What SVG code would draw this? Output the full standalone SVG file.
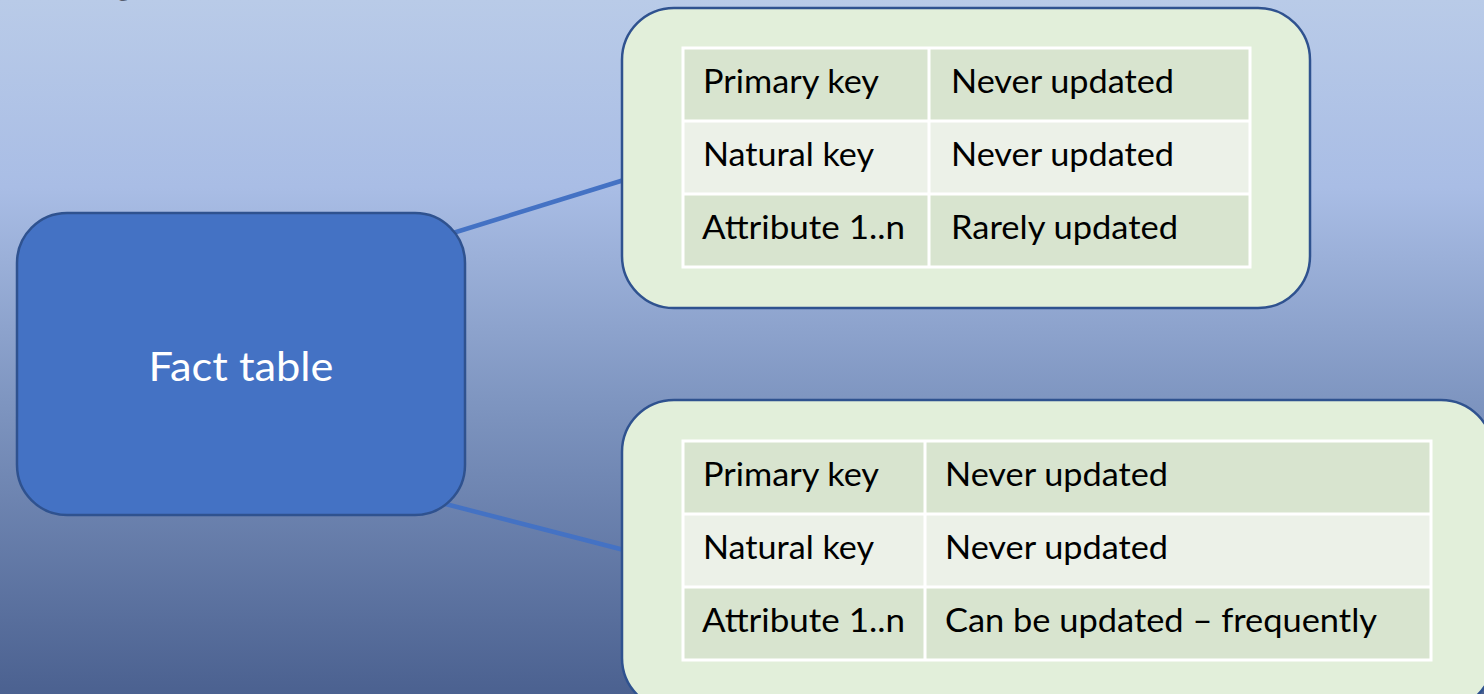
<svg xmlns="http://www.w3.org/2000/svg" width="1484" height="694" viewBox="0 0 1484 694">
  <defs>
    <linearGradient id="bg" x1="0" y1="0" x2="0" y2="1">
      <stop offset="0" stop-color="#b9cbe8"/>
      <stop offset="0.27" stop-color="#a9bde5"/>
      <stop offset="0.58" stop-color="#7e95c0"/>
      <stop offset="1" stop-color="#4b6190"/>
    </linearGradient>
    <style>
      .panel { fill: #e2efda; stroke: #2f528f; stroke-width: 2.5; }
      .fact { fill: #4472c4; stroke: #2f528f; stroke-width: 2.5; }
      .rowA { fill: #d8e4cf; }
      .rowB { fill: #ecf1e8; }
      .grid { fill: none; stroke: #ffffff; stroke-width: 3; }
      .cell { font-family: Lato, "Open Sans", sans-serif; font-size: 33px; fill: #000000; }
      .factText { font-family: Lato, "Open Sans", sans-serif; font-size: 41px; fill: #ffffff; text-anchor: middle; }
      .title { font-family: Lato, "Open Sans", sans-serif; font-size: 46px; font-weight: bold; fill: #000000; }
      .link { stroke: #4472c4; stroke-width: 4.5; fill: none; }
    </style>
  </defs>

  <rect x="0" y="0" width="1484" height="694" fill="url(#bg)"/>

  <!-- heading running off the top edge -->
  <text class="title" x="112" y="-8">g</text>
  <text class="title" x="222" y="-8">y</text>

  <g id="connectors">
    <line class="link" x1="440" y1="237" x2="624" y2="180"/>
    <line class="link" x1="430" y1="500" x2="624" y2="550"/>
  </g>

  <g id="fact-table">
    <rect class="fact" x="17" y="213" width="448" height="302" rx="50" ry="50"/>
    <text class="factText" x="241" y="381" textLength="185" lengthAdjust="spacingAndGlyphs">Fact table</text>
  </g>

  <g id="dimension-rarely">
    <rect class="panel" x="622" y="8" width="688" height="300" rx="52" ry="52"/>
    <rect class="rowA" x="683" y="48" width="567" height="73"/>
    <rect class="rowB" x="683" y="121" width="567" height="73"/>
    <rect class="rowA" x="683" y="194" width="567" height="73"/>
    <path class="grid" d="M683 48 H1250 V267 H683 Z M683 121 H1250 M683 194 H1250 M929 48 V267"/>
    <text class="cell" x="703" y="93" textLength="176" lengthAdjust="spacingAndGlyphs">Primary key</text>
    <text class="cell" x="951" y="93" textLength="223" lengthAdjust="spacingAndGlyphs">Never updated</text>
    <text class="cell" x="703" y="166" textLength="171" lengthAdjust="spacingAndGlyphs">Natural key</text>
    <text class="cell" x="951" y="166" textLength="223" lengthAdjust="spacingAndGlyphs">Never updated</text>
    <text class="cell" x="702" y="239" textLength="203" lengthAdjust="spacingAndGlyphs">Attribute 1..n</text>
    <text class="cell" x="951" y="239" textLength="227" lengthAdjust="spacingAndGlyphs">Rarely updated</text>
  </g>

  <g id="dimension-frequently">
    <rect class="panel" x="622" y="400" width="871" height="310" rx="52" ry="52"/>
    <rect class="rowA" x="683" y="441" width="748" height="73"/>
    <rect class="rowB" x="683" y="514" width="748" height="73"/>
    <rect class="rowA" x="683" y="587" width="748" height="73"/>
    <path class="grid" d="M683 441 H1431 V660 H683 Z M683 514 H1431 M683 587 H1431 M925 441 V660"/>
    <text class="cell" x="703" y="486" textLength="176" lengthAdjust="spacingAndGlyphs">Primary key</text>
    <text class="cell" x="945" y="486" textLength="223" lengthAdjust="spacingAndGlyphs">Never updated</text>
    <text class="cell" x="703" y="559" textLength="171" lengthAdjust="spacingAndGlyphs">Natural key</text>
    <text class="cell" x="945" y="559" textLength="223" lengthAdjust="spacingAndGlyphs">Never updated</text>
    <text class="cell" x="702" y="632" textLength="203" lengthAdjust="spacingAndGlyphs">Attribute 1..n</text>
    <text class="cell" x="945" y="632" textLength="432" lengthAdjust="spacingAndGlyphs">Can be updated – frequently</text>
  </g>
</svg>
